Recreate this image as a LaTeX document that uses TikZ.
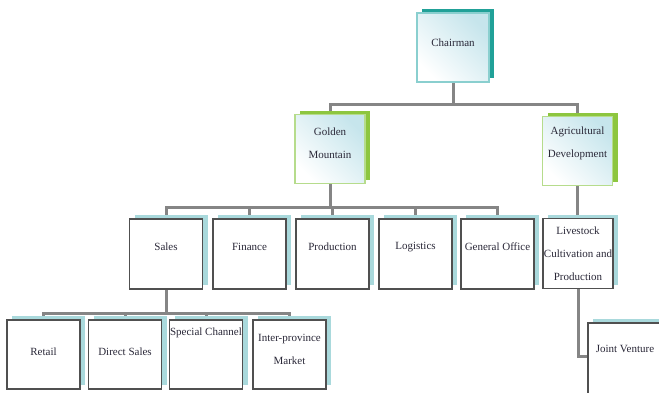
\documentclass[tikz,border=0pt]{standalone}
\usepackage{fontspec}
\setmainfont{Liberation Serif}
\usetikzlibrary{shadows,backgrounds}
\definecolor{conngray}{HTML}{858585}
\definecolor{txtcol}{HTML}{2A2838}
\definecolor{tealsh}{HTML}{21A198}
\definecolor{greensh}{HTML}{8DC63F}
\definecolor{paletealsh}{HTML}{A9D9DC}
\definecolor{tealedge}{HTML}{8ACFCF}
\definecolor{greenedge}{HTML}{B6DC8C}
\definecolor{gradblue}{HTML}{C6E5EC}
\definecolor{boxedge}{HTML}{505050}
\begin{document}
\begin{tikzpicture}[x=1pt,y=-1pt,
  conn/.style={draw=conngray, line width=3pt, line join=miter},
  txt/.style={font=\fontsize{11}{23}\selectfont, text=txtcol, align=center, inner sep=0pt},
  gradbox/.style={rectangle, inner sep=0pt, line width=1.4pt, top color=gradblue, bottom color=white, shading angle=-45},
  lvone/.style={gradbox, draw=tealedge, minimum width=72pt, minimum height=69pt,
    general shadow={fill=tealsh, shadow xshift=5pt, shadow yshift=4pt}},
  lvtwo/.style={gradbox, draw=greenedge, minimum width=70pt, minimum height=69pt,
    general shadow={fill=greensh, shadow xshift=5pt, shadow yshift=4pt}},
  lvthree/.style={rectangle, inner sep=0pt, draw=boxedge, fill=white, line width=1.4pt,
    minimum width=73pt, minimum height=70pt,
    general shadow={fill=paletealsh, shadow xshift=5pt, shadow yshift=4pt}}
]
\path[use as bounding box, clip] (0,0) rectangle (659,392);

% level 1
\node[lvone, label={[txt,yshift=5pt]center:Chairman}] (chair) at (453,47.5) {};
% level 2
\node[lvtwo, label={[txt,yshift=5.5pt]center:{Golden\\Mountain}}] (gm) at (330,149) {};
\node[lvtwo, label={[txt,yshift=7.5pt]center:{Agricultural\\Development}}] (ag) at (577.5,151) {};
% level 3
\node[lvthree, label={[txt,yshift=7pt]center:Sales}] (sales) at (166,254) {};
\node[lvthree, label={[txt,yshift=7pt]center:Finance}] (fin) at (249.5,254) {};
\node[lvthree, label={[txt,yshift=7pt]center:Production}] (prod) at (332.5,254) {};
\node[lvthree, label={[txt,yshift=7pt]center:Logistics}] (logi) at (415.5,254) {};
\node[lvthree, label={[txt,yshift=7pt]center:General Office}] (go) at (497.5,254) {};
\node[lvthree, minimum width=70pt, label={[txt]center:{Livestock\\Cultivation and\\Production}}] (ls) at (578,253.5) {};
% level 4
\node[lvthree, minimum height=69pt, label={[txt,yshift=2.5pt]center:Retail}] (retail) at (43.5,354.5) {};
\node[lvthree, minimum height=69pt, label={[txt,yshift=2.5pt]center:Direct Sales}] (ds) at (125,354.5) {};
\node[lvthree, minimum height=69pt, label={[txt,yshift=22pt]center:Special Channel}] (sc) at (206,354.5) {};
\node[lvthree, minimum height=69pt, label={[txt,yshift=5pt]center:{Inter-province\\Market}}] (ip) at (289.5,354.5) {};
\node[lvthree, minimum width=74pt, minimum height=78pt, label={[txt,yshift=13.5pt]center:Joint Venture}] (jv) at (625,362) {};

\begin{scope}[on background layer]
  \fill[white] (0,0) rectangle (659,392);
  \coordinate (bone) at (453,104);
  \coordinate (btwo) at (332,207);
  \coordinate (bthree) at (166,313);
  \draw[conn] (chair.south) -- (bone);
  \draw[conn] (gm.north) |- (bone) -| (ag.north);
  \draw[conn] (gm.south) -- (gm.south |- btwo);
  \draw[conn] (sales.north) |- (btwo) -| (go.north);
  \draw[conn] (fin.north) -- (fin.north |- btwo);
  \draw[conn] (prod.north) -- (prod.north |- btwo);
  \draw[conn] (logi.north) -- (logi.north |- btwo);
  \draw[conn] (ag.south) -- (ag.south |- ls.north);
  \draw[conn] (ls.south) |- ([yshift=-34pt]jv.north west);
  \draw[conn] (sales.south) -- (bthree);
  \draw[conn] (retail.north) |- (bthree) -| (ip.north);
  \draw[conn] (ds.north) -- (ds.north |- bthree);
  \draw[conn] (sc.north) -- (sc.north |- bthree);
\end{scope}
\end{tikzpicture}
\end{document}
